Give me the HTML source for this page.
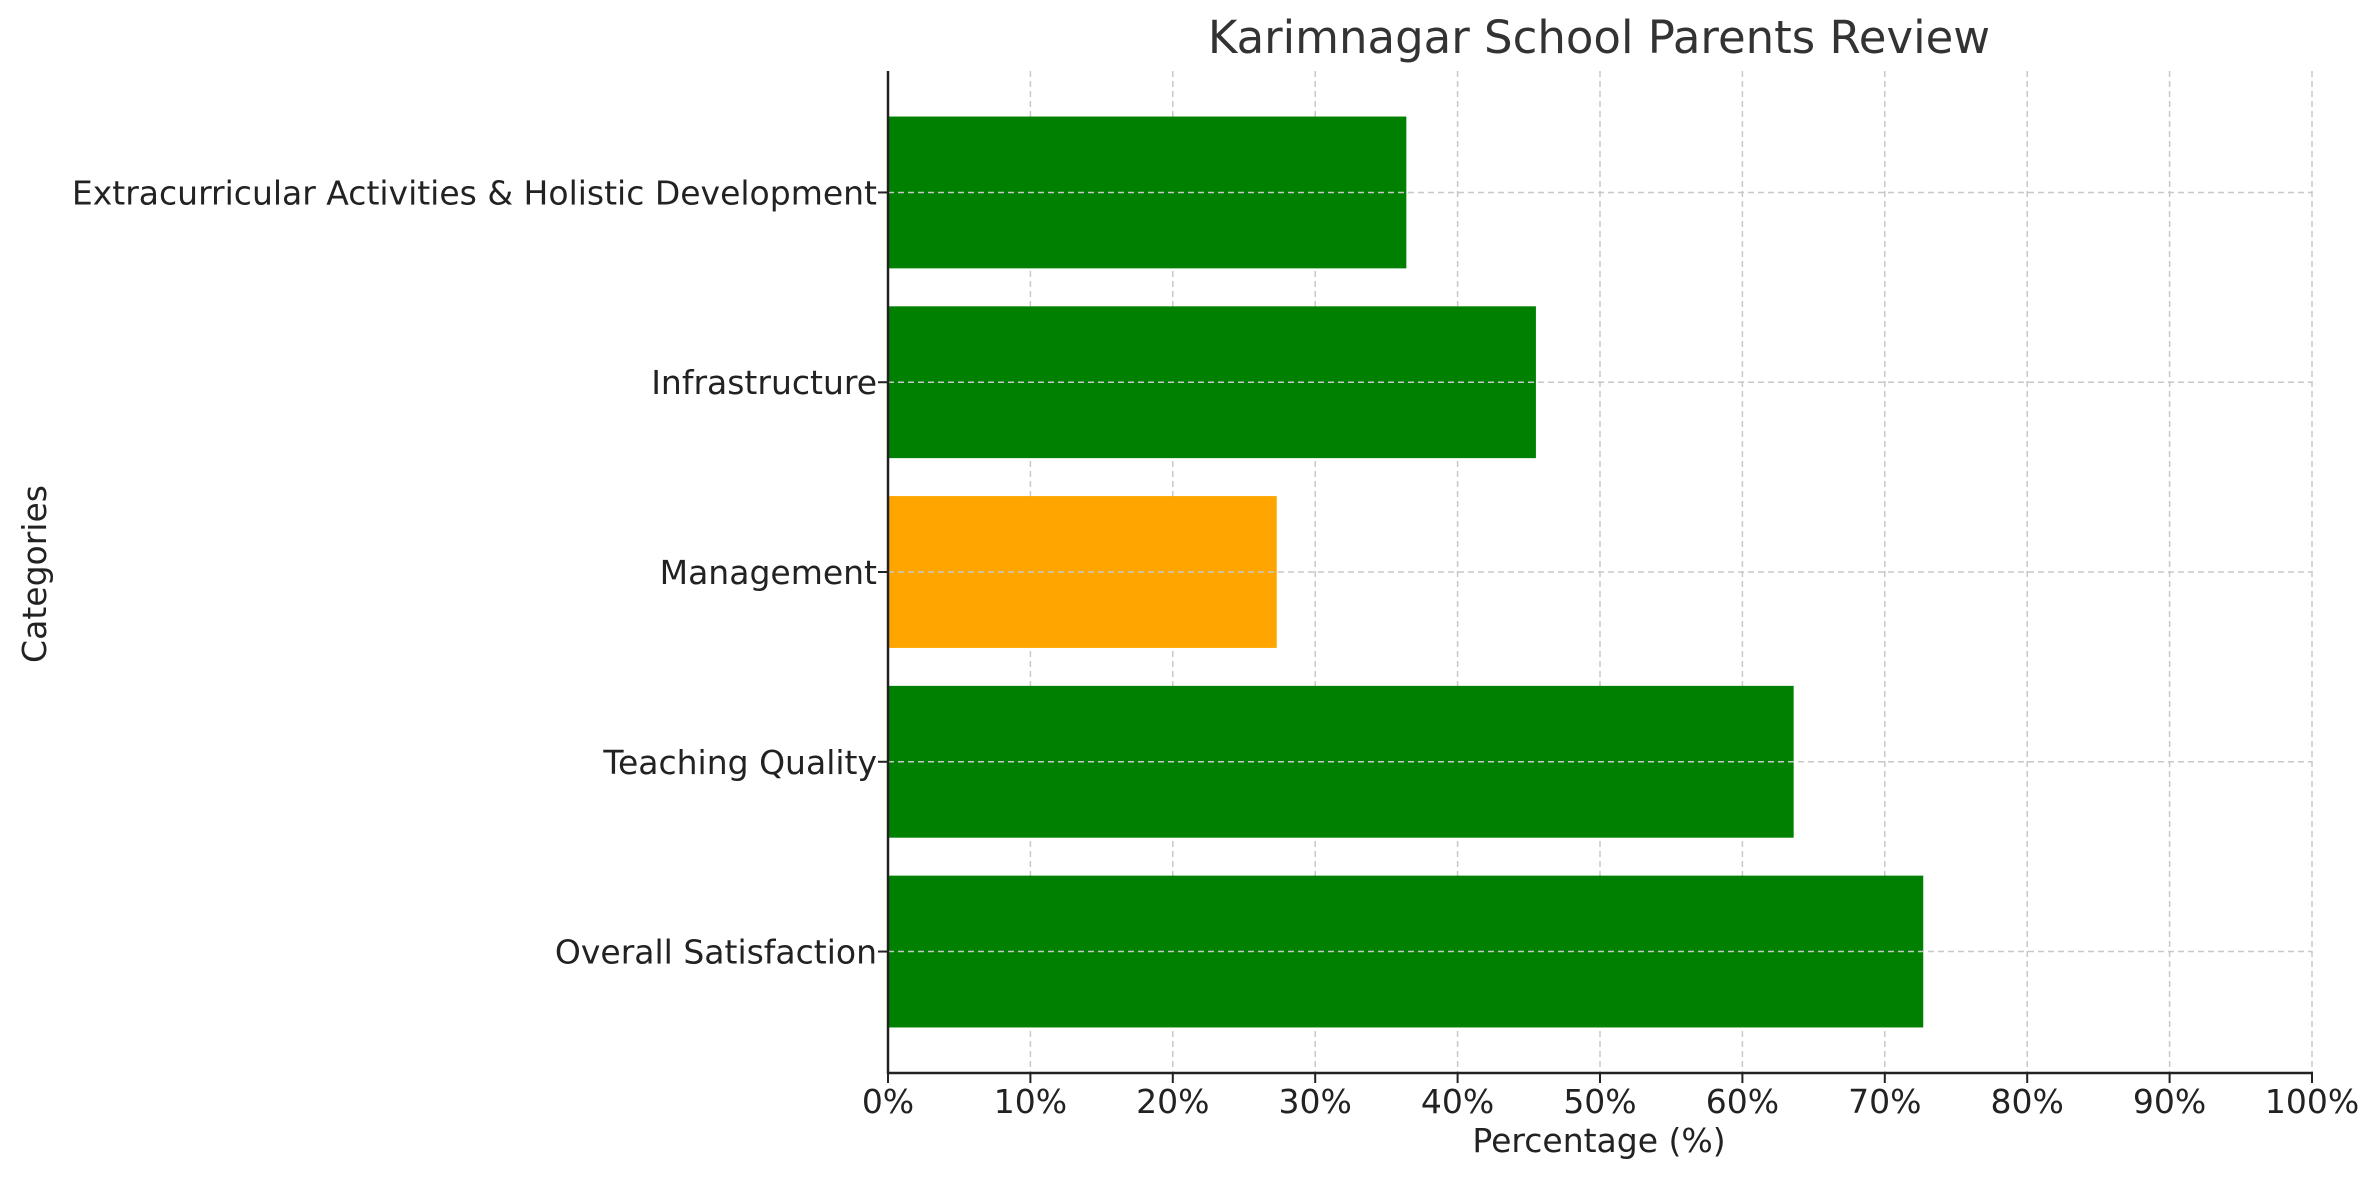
<!DOCTYPE html>
<html><head><meta charset="utf-8"><style>
html,body{margin:0;padding:0;background:#fff;}
svg text{font-family:"DejaVu Sans","Liberation Sans",sans-serif;}
</style></head><body>
<svg id="chart" width="2379" height="1180" xmlns="http://www.w3.org/2000/svg">
<rect width="2379" height="1180" fill="#fff"/>
<text x="1599" y="53" font-size="45" fill="#333" text-anchor="middle">Karimnagar School Parents Review</text>
<g id="grid"></g><g id="bars"></g><g id="axes"></g>
<text x="1599" y="1152" font-size="33" fill="#222" text-anchor="middle">Percentage (%)</text>
<text transform="translate(46,574) rotate(-90)" font-size="33" fill="#222" text-anchor="middle">Categories</text>
</svg>
<script>
const categories = ["Overall Satisfaction","Teaching Quality","Management","Infrastructure","Extracurricular Activities & Holistic Development"];
const values = [72.7, 63.6, 27.3, 45.5, 36.4];
const barColors = ["green","green","orange","green","green"];
const xTicks = [0,10,20,30,40,50,60,70,80,90,100];

const NS="http://www.w3.org/2000/svg";
const L=888,R=2312,T=71,B=1073;
const yMin=-0.64,yMax=4.64;
const xs=v=>L+(v/100)*(R-L);
const ys=i=>B-(i-yMin)/(yMax-yMin)*(B-T);
const bh=0.8*(B-T)/(yMax-yMin);
function mk(tag,attrs,parent){const e=document.createElementNS(NS,tag);for(const k in attrs)e.setAttribute(k,attrs[k]);parent.appendChild(e);return e;}
const grid=document.getElementById('grid'),bars=document.getElementById('bars'),axes=document.getElementById('axes');
xTicks.forEach(t=>{
  const g=mk('line',{x1:xs(t),x2:xs(t),y1:T,y2:B,stroke:'#c8c8c8','stroke-width':1.5,'stroke-dasharray':'6,4'},grid);
  
  
  const tk=mk('line',{x1:xs(t),x2:xs(t),y1:B,y2:B+10,stroke:'#222','stroke-width':2},axes);
  
  
  const tx=mk('text',{x:xs(t),y:B+40,'font-size':33,fill:'#222','text-anchor':'middle'},axes);
  tx.textContent=t+'%';
  
  
});
categories.forEach((c,i)=>{
  const b=mk('rect',{x:L,y:ys(i)-bh/2,width:xs(values[i])-L,height:bh,fill:barColors[i]},bars);
  
  
  const g=mk('line',{x1:L,x2:R,y1:ys(i),y2:ys(i),stroke:'#c8c8c8','stroke-width':1.5,'stroke-dasharray':'6,4'},bars);
  
  
  const tk=mk('line',{x1:L-10,x2:L,y1:ys(i),y2:ys(i),stroke:'#222','stroke-width':2},axes);
  
  
  const tx=mk('text',{x:L-11,y:ys(i)+12,'font-size':33,fill:'#222','text-anchor':'end'},axes);
  tx.textContent=c;
  
  
});
const ax=mk('line',{x1:L,x2:L,y1:T,y2:B+1,stroke:'#222','stroke-width':2.5},axes);


const bx=mk('line',{x1:L-1,x2:R+1,y1:B,y2:B,stroke:'#222','stroke-width':2.5},axes);


</script>
</body></html>
